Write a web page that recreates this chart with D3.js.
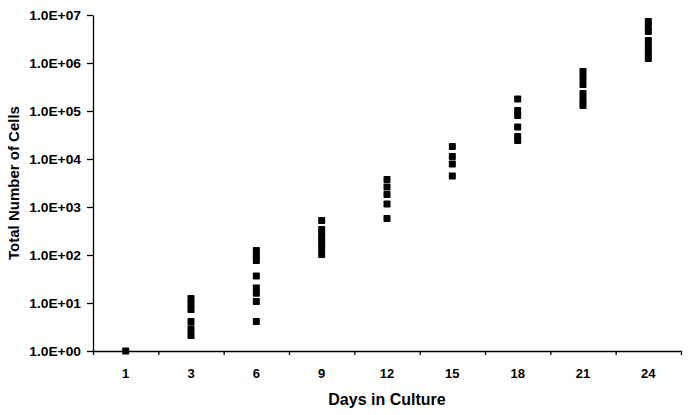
<!DOCTYPE html>
<html>
<head>
<meta charset="utf-8">
<script src="https://cdn.jsdelivr.net/npm/d3@7"></script>
<style>
  body { margin: 0; background: #fff; }
  text { font-family: "Liberation Sans", Arial, sans-serif; font-weight: bold; fill: #000; }
</style>
</head>
<body>
<div id="chart"></div>
<script>
// days in culture (categories)
const days = [1, 3, 6, 9, 12, 15, 18, 21, 24];
// cell counts, one list per day
const cells = [
    [1],
    [12.4, 9.5, 7.3, 4.1, 2.9, 2.1],
    [124, 98, 77, 36.5, 20.5, 16, 10.7, 4.1],
    [523, 340, 249, 187, 140, 102],
    [3740, 2610, 1820, 1155, 576],
    [18200, 11270, 7870, 4420],
    [178000, 102000, 80600, 46400, 29400, 24300],
    [665000, 487000, 357000, 232000, 169000, 130000],
    [7.3e6, 5.76e6, 4.53e6, 2.94e6, 2.15e6, 1.62e6, 1.24e6]
];
const yTicks = [1, 1e1, 1e2, 1e3, 1e4, 1e5, 1e6, 1e7];

const width = 689, height = 415;
const mLeft = 93, mRight = 681, mTop = 15, mBottom = 351;

const svg = d3.select("#chart").append("svg")
    .attr("width", width)
    .attr("height", height);

const x = d3.scaleBand().domain(days).range([mLeft, mRight]).padding(0);
const xEdge = d3.scaleLinear().domain([0, days.length]).range([mLeft, mRight]);
const y = d3.scaleLog().domain([1, 1e7]).range([mBottom, mTop]);

function fmt(d) {
    const e = Math.round(Math.log10(d));
    return "1.0E+" + String(e).padStart(2, "0");
}

// y axis
const yAxis = svg.append("g")
    .attr("transform", "translate(" + mLeft + ",0)")
    .call(d3.axisLeft(y).tickValues(yTicks).tickFormat(fmt).tickSize(6).tickSizeOuter(0));
yAxis.selectAll("text")
    .attr("x", 0)
    .attr("dy", "0.35em")
    .attr("transform", "translate(-12,0) scale(1.15,1)")
    .style("font-size", "12px");

// x axis: ticks at category boundaries
svg.append("g")
    .attr("transform", "translate(0," + mBottom + ")")
    .call(d3.axisBottom(xEdge).tickValues(d3.range(days.length + 1)).tickFormat("").tickSize(4).tickSizeOuter(0));

// x labels at band centres
const xLab = svg.append("g")
    .attr("transform", "translate(0," + mBottom + ")")
    .call(d3.axisBottom(x).tickSize(0));
xLab.select(".domain").remove();
xLab.selectAll("text")
    .attr("y", 22)
    .attr("dy", "0.35em")
    .style("font-size", "13px");

svg.selectAll(".domain, .tick line").attr("stroke", "#000").attr("stroke-width", 1.3);

// markers
const pts = [];
days.forEach((d, i) => cells[i].forEach(v => pts.push({day: d, value: v})));
svg.append("g").selectAll("rect")
    .data(pts)
    .enter()
    .append("rect")
    .attr("x", d => x(d.day) + x.bandwidth() / 2 - 3.5)
    .attr("y", d => y(d.value) - 3.5)
    .attr("width", 7)
    .attr("height", 7)
    .attr("rx", 0.8)
    .attr("fill", "#000");

// axis titles
svg.append("text")
    .attr("x", (mLeft + mRight) / 2)
    .attr("y", 405)
    .attr("text-anchor", "middle")
    .style("font-size", "16px")
    .text("Days in Culture");

svg.append("text")
    .attr("transform", "translate(19," + 183 + ") rotate(-90)")
    .attr("text-anchor", "middle")
    .style("font-size", "15px")
    .text("Total Number of Cells");
</script>
</body>
</html>
